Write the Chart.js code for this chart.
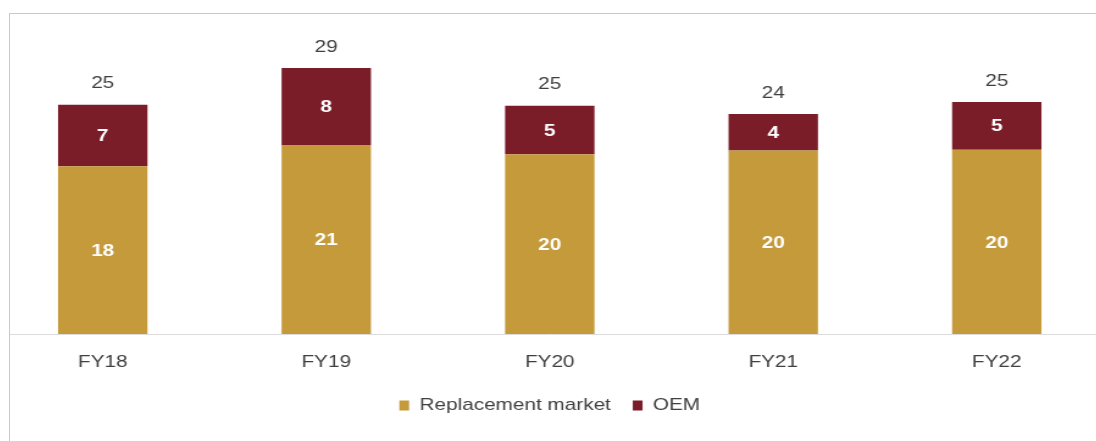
<!DOCTYPE html>
<html>
<head>
<meta charset="utf-8">
<script src="https://cdn.jsdelivr.net/npm/chart.js@4/dist/chart.umd.min.js"></script>
<style>
  html, body { margin: 0; padding: 0; background: #fff; }
  body { width: 1096px; height: 441px; position: relative; overflow: hidden; }
  #clip { position: absolute; left: 10px; top: 0; width: 1086px; height: 441px; overflow: hidden; }
  /* the source picture is stretched sideways, so the canvas is too */
  #wrap { position: absolute; left: -19px; top: 0; width: 916px; height: 441px;
          transform: scaleX(1.22); transform-origin: 0 0; }
  #frame { position: absolute; left: 9px; top: 13px; width: 1200px; height: 500px;
           border-top: 1px solid #c9c9c9; border-left: 1px solid #c9c9c9; pointer-events: none; }
</style>
</head>
<body>
<div id="clip"><div id="wrap"><canvas id="myChart"></canvas></div></div>
<div id="frame"></div>
<script>
// values (labels show them rounded)
var categories = ['FY18', 'FY19', 'FY20', 'FY21', 'FY22'];
var replacementMarket = [18.3, 20.6, 19.6, 20.0, 20.1];
var oem = [6.7, 8.4, 5.3, 4.0, 5.2];

var GOLD = '#c59a3b';
var MAROON = '#7a1d28';
var TEXT = '#404040';
var FONT = "'Liberation Sans', Arial, sans-serif";

// draws the value inside each segment and the total above each bar
var barLabels = {
    id: 'barLabels',
    afterDatasetsDraw: function (chart) {
        var ctx = chart.ctx;
        ctx.save();
        ctx.textAlign = 'center';
        ctx.textBaseline = 'middle';
        chart.data.datasets.forEach(function (ds, i) {
            var meta = chart.getDatasetMeta(i);
            meta.data.forEach(function (bar, j) {
                ctx.fillStyle = '#ffffff';
                ctx.font = 'bold 17px ' + FONT;
                ctx.fillText(Math.round(ds.data[j]), bar.x, (bar.y + bar.base) / 2 + 1);
            });
        });
        var top = chart.getDatasetMeta(chart.data.datasets.length - 1);
        top.data.forEach(function (bar, j) {
            var total = replacementMarket[j] + oem[j];
            ctx.fillStyle = TEXT;
            ctx.font = '17px ' + FONT;
            ctx.fillText(Math.round(total), bar.x, bar.y - 21);
        });
        ctx.restore();
    }
};

var ctx = document.getElementById('myChart');
var myChart = new Chart(ctx, {
    type: 'bar',
    data: {
        labels: categories,
        datasets: [
            { label: 'Replacement market', data: replacementMarket, backgroundColor: GOLD },
            { label: 'OEM', data: oem, backgroundColor: MAROON }
        ]
    },
    options: {
        responsive: true,
        maintainAspectRatio: false,
        animation: false,
        layout: { padding: { top: 13, bottom: 17, left: 0, right: 0 } },
        datasets: { bar: { categoryPercentage: 1, barPercentage: 0.4 } },
        scales: {
            x: {
                stacked: true,
                grid: { display: false, drawTicks: false },
                border: { display: true, color: '#dcdcdc', width: 1 },
                ticks: { color: TEXT, font: { family: FONT, size: 17 }, padding: 18 },
                afterFit: function (scale) { scale.height = 45; }
            },
            y: {
                stacked: true,
                display: false,
                min: 0,
                max: 35
            }
        },
        plugins: {
            legend: {
                position: 'bottom',
                labels: {
                    boxWidth: 8,
                    boxHeight: 10,
                    padding: 18,
                    color: TEXT,
                    font: { family: FONT, size: 17 }
                }
            },
            tooltip: { enabled: false }
        }
    },
    plugins: [barLabels]
});
</script>
</body>
</html>
